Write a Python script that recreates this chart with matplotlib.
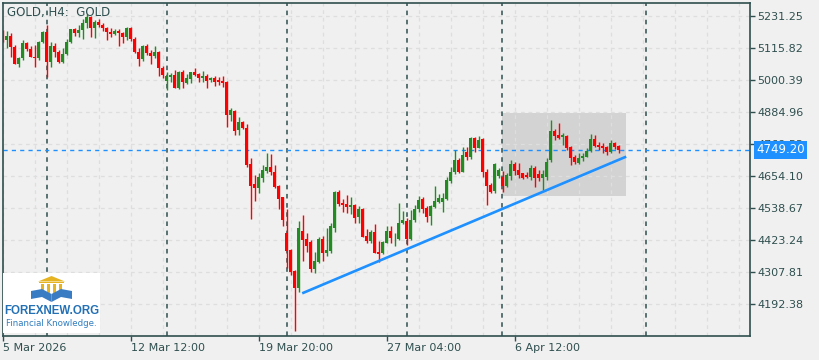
import numpy as np
import matplotlib
matplotlib.use("Agg")
import matplotlib.pyplot as plt
from matplotlib.patches import Rectangle, Polygon
from matplotlib.ticker import FixedLocator, MultipleLocator
import matplotlib.transforms as mtransforms

# H4 candles, one per bar index
opens = [
    5173.6, 5144.7, 5159.1, 5118.4, 5058.2, 5078.7, 5135.0, 5111.2, 5084.5, 5078.7,
    5138.6, 5174.7, 5066.4, 5123.1, 5102.5, 5066.4, 5093.1, 5138.6, 5183.3, 5171.1,
    5180.8, 5205.0, 5228.8, 5186.9, 5210.7, 5198.8, 5186.9, 5174.7, 5166.4, 5178.3,
    5168.9, 5154.5, 5189.1, 5148.3, 5100.4, 5076.2, 5123.1, 5096.7, 5088.1, 5102.5,
    5044.8, 4997.9, 5012.3, 5018.5, 4972.7, 5030.4, 4988.5, 5004.0, 5030.4, 5022.1,
    5006.6, 5016.0, 5000.4, 5008.7, 5000.4, 4997.9, 4994.3, 4874.2, 4888.6, 4820.1,
    4850.0, 4828.4, 4697.5, 4624.2, 4612.0, 4648.0, 4672.2, 4685.5, 4669.7, 4618.1,
    4577.3, 4449.7, 4387.2, 4312.6, 4251.3, 4455.8, 4426.9, 4416.1, 4318.7, 4344.0,
    4426.9, 4375.3, 4384.7, 4467.7, 4595.4, 4557.9, 4553.2, 4543.4, 4549.6, 4505.2,
    4535.1, 4437.7, 4419.7, 4453.3, 4381.1, 4375.3, 4413.6, 4455.8, 4429.4, 4426.9,
    4485.7, 4492.9, 4426.9, 4495.5, 4535.1, 4571.2, 4539.8, 4511.0, 4543.4, 4561.5,
    4561.5, 4571.2, 4636.1, 4667.5, 4711.9, 4669.7, 4741.8, 4723.8, 4790.2, 4756.3,
    4786.6, 4669.7, 4621.7, 4600.1, 4655.2, 4651.6, 4619.2, 4655.2, 4697.5, 4675.8,
    4663.9, 4657.8, 4651.6, 4684.1, 4660.3, 4648.0, 4651.6, 4711.9, 4817.6, 4802.1,
    4795.9, 4798.4, 4759.9, 4721.6, 4702.1, 4718.0, 4723.8, 4745.4, 4787.6, 4766.0,
    4762.4, 4757.7, 4739.6, 4774.3, 4762.4,
]
highs = [
    5180.8, 5177.2, 5168.9, 5126.7, 5084.5, 5144.7, 5138.6, 5123.1, 5126.7, 5141.1,
    5178.3, 5198.8, 5138.6, 5135.0, 5108.6, 5114.8, 5147.2, 5184.4, 5186.9, 5198.8,
    5219.4, 5238.5, 5231.3, 5216.9, 5219.4, 5207.1, 5192.7, 5186.9, 5184.4, 5183.3,
    5174.7, 5192.7, 5192.7, 5156.6, 5114.8, 5126.7, 5129.2, 5108.6, 5123.1, 5106.1,
    5052.0, 5030.4, 5024.6, 5036.5, 5034.0, 5036.5, 5021.0, 5030.4, 5042.6, 5026.8,
    5032.9, 5021.0, 5010.2, 5016.0, 5010.2, 5016.0, 4996.8, 4900.5, 4892.2, 4865.9,
    4853.6, 4841.7, 4720.2, 4657.8, 4666.1, 4693.8, 4738.2, 4732.4, 4693.8, 4621.7,
    4579.5, 4535.1, 4390.9, 4315.1, 4491.9, 4513.5, 4447.5, 4423.3, 4379.0, 4434.1,
    4437.7, 4465.5, 4483.6, 4600.1, 4603.7, 4570.1, 4585.6, 4579.5, 4552.1, 4546.0,
    4537.0, 4461.9, 4459.4, 4480.0, 4419.7, 4420.8, 4473.8, 4473.8, 4447.5, 4557.9,
    4527.9, 4501.6, 4531.5, 4549.6, 4582.0, 4579.5, 4546.0, 4549.6, 4618.1, 4589.2,
    4591.8, 4651.6, 4687.7, 4747.9, 4718.0, 4759.9, 4759.9, 4793.8, 4793.8, 4799.5,
    4790.2, 4678.3, 4627.8, 4702.1, 4681.9, 4672.2, 4663.9, 4711.9, 4705.7, 4700.0,
    4666.1, 4669.7, 4693.8, 4690.2, 4675.8, 4675.8, 4720.2, 4856.2, 4822.6, 4844.3,
    4808.2, 4802.1, 4762.4, 4729.9, 4736.0, 4736.0, 4754.1, 4805.7, 4802.1, 4777.9,
    4772.1, 4762.4, 4784.0, 4775.7, 4766.0,
]
lows = [
    5137.5, 5114.8, 5084.5, 5057.1, 5048.4, 5072.6, 5106.1, 5082.3, 5048.4, 5072.6,
    5132.8, 5012.3, 5048.4, 5084.5, 5060.7, 5060.7, 5090.6, 5135.0, 5159.1, 5156.6,
    5147.2, 5186.9, 5156.6, 5150.9, 5190.5, 5178.3, 5144.7, 5156.6, 5162.8, 5123.1,
    5132.8, 5144.7, 5142.2, 5096.7, 5052.0, 5070.1, 5090.6, 5058.2, 5078.7, 5016.0,
    5006.6, 4964.4, 4994.3, 4970.5, 4968.0, 4972.7, 4986.0, 4990.7, 5016.0, 4994.3,
    4994.3, 4972.7, 4994.3, 4978.8, 4982.4, 4976.3, 4832.0, 4853.6, 4802.1, 4802.1,
    4823.7, 4685.5, 4499.1, 4565.1, 4593.9, 4633.6, 4663.9, 4657.8, 4609.8, 4535.1,
    4473.8, 4321.2, 4297.1, 4096.2, 4236.8, 4348.7, 4380.0, 4307.9, 4304.3, 4340.4,
    4348.7, 4365.6, 4377.5, 4453.3, 4546.0, 4525.4, 4519.6, 4517.1, 4483.6, 4485.7,
    4434.1, 4411.4, 4411.4, 4375.3, 4345.0, 4372.8, 4412.5, 4411.4, 4401.7, 4423.3,
    4481.0, 4405.3, 4423.3, 4489.3, 4525.4, 4519.6, 4489.3, 4477.4, 4537.7, 4557.9,
    4525.4, 4567.6, 4627.8, 4661.4, 4666.1, 4668.6, 4711.9, 4714.4, 4741.8, 4754.1,
    4651.6, 4549.6, 4591.8, 4591.8, 4645.9, 4597.5, 4615.6, 4639.7, 4657.8, 4645.9,
    4642.3, 4648.0, 4639.7, 4615.6, 4636.1, 4603.7, 4639.7, 4705.7, 4784.0, 4786.6,
    4766.0, 4747.9, 4693.8, 4697.5, 4697.5, 4709.4, 4721.6, 4741.8, 4757.7, 4747.9,
    4738.2, 4729.9, 4736.0, 4750.5, 4738.2,
]
closes = [
    5144.7, 5159.1, 5118.4, 5058.2, 5078.7, 5135.0, 5111.2, 5084.5, 5078.7, 5138.6,
    5174.7, 5066.4, 5123.1, 5102.5, 5066.4, 5093.1, 5138.6, 5183.3, 5171.1, 5180.8,
    5205.0, 5228.8, 5186.9, 5210.7, 5198.8, 5186.9, 5174.7, 5166.4, 5178.3, 5168.9,
    5154.5, 5189.1, 5148.3, 5100.4, 5076.2, 5123.1, 5096.7, 5088.1, 5102.5, 5044.8,
    5018.5, 5014.9, 5018.5, 4972.7, 5030.4, 4992.1, 5008.7, 5028.2, 5018.5, 5006.6,
    5014.9, 4997.9, 5006.6, 4994.3, 4994.3, 4990.7, 4874.2, 4892.2, 4816.5, 4850.0,
    4826.2, 4693.8, 4618.1, 4612.0, 4651.6, 4675.8, 4686.6, 4669.7, 4613.4, 4571.2,
    4495.5, 4384.7, 4309.0, 4249.1, 4466.6, 4423.3, 4401.7, 4318.7, 4347.6, 4426.9,
    4377.5, 4387.2, 4473.8, 4597.5, 4553.2, 4549.6, 4543.4, 4549.6, 4501.6, 4535.1,
    4435.2, 4420.8, 4453.3, 4377.5, 4372.8, 4417.2, 4455.8, 4429.4, 4431.6, 4485.7,
    4495.5, 4426.9, 4495.5, 4535.1, 4567.6, 4535.1, 4507.4, 4546.0, 4565.1, 4573.7,
    4573.7, 4639.7, 4669.7, 4711.9, 4669.7, 4729.9, 4723.8, 4790.2, 4756.3, 4784.0,
    4669.7, 4618.1, 4597.5, 4697.5, 4675.8, 4619.2, 4657.8, 4697.5, 4673.3, 4657.8,
    4648.0, 4651.6, 4684.1, 4648.0, 4648.0, 4660.3, 4705.7, 4817.6, 4798.4, 4790.2,
    4802.1, 4754.1, 4718.0, 4705.7, 4718.0, 4726.3, 4745.4, 4787.6, 4762.4, 4757.7,
    4754.1, 4739.6, 4774.3, 4757.7, 4749.2,
]

price_ticks = [5231.25, 5115.82, 5000.39, 4884.96, 4769.53, 4654.10,
               4538.67, 4423.24, 4307.81, 4192.38]
date_ticks = [0, 32, 64, 96, 128]
date_labels = ["5 Mar 2026", "12 Mar 12:00", "19 Mar 20:00", "27 Mar 04:00", "6 Apr 12:00"]
separators = [11, 41, 71, 101, 124.8, 160.8]
last_price = 4749.20
trend_x = [74.8, 155.8]
trend_y = [4231.0, 4724.0]
box_x = [124.75, 155.75]
box_y = [4582.0, 4881.0]

BG = "#F0F0F0"
DARK = "#2F4F4F"
UP = "#228B22"
DOWN = "#FF0000"
BLUE = "#1E90FF"

fig = plt.figure(figsize=(8.2, 3.6), dpi=100, facecolor=BG)
ax = fig.add_axes([3 / 820, 24 / 360, 747 / 820, 333 / 360], facecolor=BG)

o = np.array(opens)
h = np.array(highs)
l = np.array(lows)
c = np.array(closes)
x = np.arange(len(o))
cols = np.where(c >= o, UP, DOWN)

# shaded zone
ax.add_patch(Rectangle((box_x[0], box_y[0]), box_x[1] - box_x[0], box_y[1] - box_y[0],
                       facecolor="#D3D3D3", edgecolor="none", zorder=0.1))

for s in separators:
    ax.axvline(s, color=DARK, lw=1.1, ls=(0, (3, 3)), zorder=1.2)

ax.axhline(last_price, color=BLUE, lw=1.0, ls=(0, (3, 3)), zorder=1.4)

ax.vlines(x, np.minimum(l, np.minimum(o, c)), np.maximum(h, np.maximum(o, c)),
          colors=cols, lw=1.0, zorder=2)
body = np.maximum(np.abs(c - o), 2.5)
ax.bar(x, body, bottom=np.minimum(o, c), width=0.75, color=cols, linewidth=0, zorder=2.1)

ax.plot(trend_x, trend_y, color=BLUE, lw=1.9, solid_capstyle="butt", zorder=3)

ax.set_xlim(0, 186.75)
ax.set_ylim(4077.0, 5278.2)

ax.set_axisbelow(True)
ax.yaxis.tick_right()
ax.set_yticks(price_ticks)
ax.set_yticklabels([f"{p:.2f}" for p in price_ticks])
ax.xaxis.set_major_locator(FixedLocator(date_ticks))
ax.xaxis.set_minor_locator(MultipleLocator(8))
ax.set_xticklabels(date_labels)
for lab in ax.get_xticklabels():
    lab.set_ha("left")
ax.tick_params(axis="both", which="major", colors=DARK, labelcolor=DARK,
               labelsize=8, length=3.5, width=1.0)
ax.tick_params(axis="x", which="major", pad=1.5)
ax.tick_params(axis="y", which="major", pad=2)
ax.tick_params(axis="x", which="minor", length=0)
ax.grid(True, axis="x", which="both", color="#DEDEDE", lw=0.9, ls=(0, (3, 3)))
ax.grid(True, axis="y", which="major", color="#DEDEDE", lw=0.9, ls=(0, (3, 3)))
for sp in ax.spines.values():
    sp.set_color(DARK)
    sp.set_linewidth(1.2)

ax.text(0.006, 0.972, "GOLD, H4:  GOLD", transform=ax.transAxes, ha="left", va="center",
        fontsize=8.5, color=DARK, zorder=5)

# current price label on the right scale (covers the 4769.53 label like the original)
trans = mtransforms.blended_transform_factory(ax.transAxes, ax.transData)
ax.annotate(f"{last_price:.2f}", xy=(1.0, last_price), xycoords=trans,
            xytext=(6, 0), textcoords="offset pixels", ha="left", va="center",
            fontsize=8.5, color="white", annotation_clip=False, zorder=6,
            bbox=dict(boxstyle="square,pad=0.2", fc=BLUE, ec="none"))

# logo box
lg = fig.add_axes([3 / 820, 27 / 360, 97 / 820, 60 / 360])
lg.set_xlim(0, 97)
lg.set_ylim(60, 0)
lg.axis("off")
lg.add_patch(Rectangle((0, 0), 97, 60, facecolor="white", edgecolor="none"))
gold = "#E6B422"
lg.add_patch(Polygon([[35, 8.5], [48.5, 3], [62, 8.5]], closed=True, fc=gold, ec="none"))
lg.add_patch(Rectangle((36, 8.5), 25, 1.8, fc=gold, ec="none"))
for px in [38.5, 44.5, 50.5, 56.5]:
    lg.add_patch(Rectangle((px, 10.8), 2.6, 11, fc=gold, ec="none"))
book = "#3A7CC4"
lg.add_patch(Polygon([[28, 18], [39, 16], [48.5, 21], [48.5, 29], [39, 24], [28, 26]],
                     closed=True, fc=book, ec="none"))
lg.add_patch(Polygon([[69, 18], [58, 16], [48.5, 21], [48.5, 29], [58, 24], [69, 26]],
                     closed=True, fc=book, ec="none"))
lg.text(48.5, 38.5, "FOREXNEW.ORG", ha="center", va="center", fontsize=8.3,
        fontweight="bold", color="#2370B5", family="Liberation Sans")
lg.text(48.5, 50, "Financial Knowledge.", ha="center", va="center", fontsize=6.2,
        color="#2F7DC0")

fig.savefig("out.png", dpi=100, facecolor=BG)
